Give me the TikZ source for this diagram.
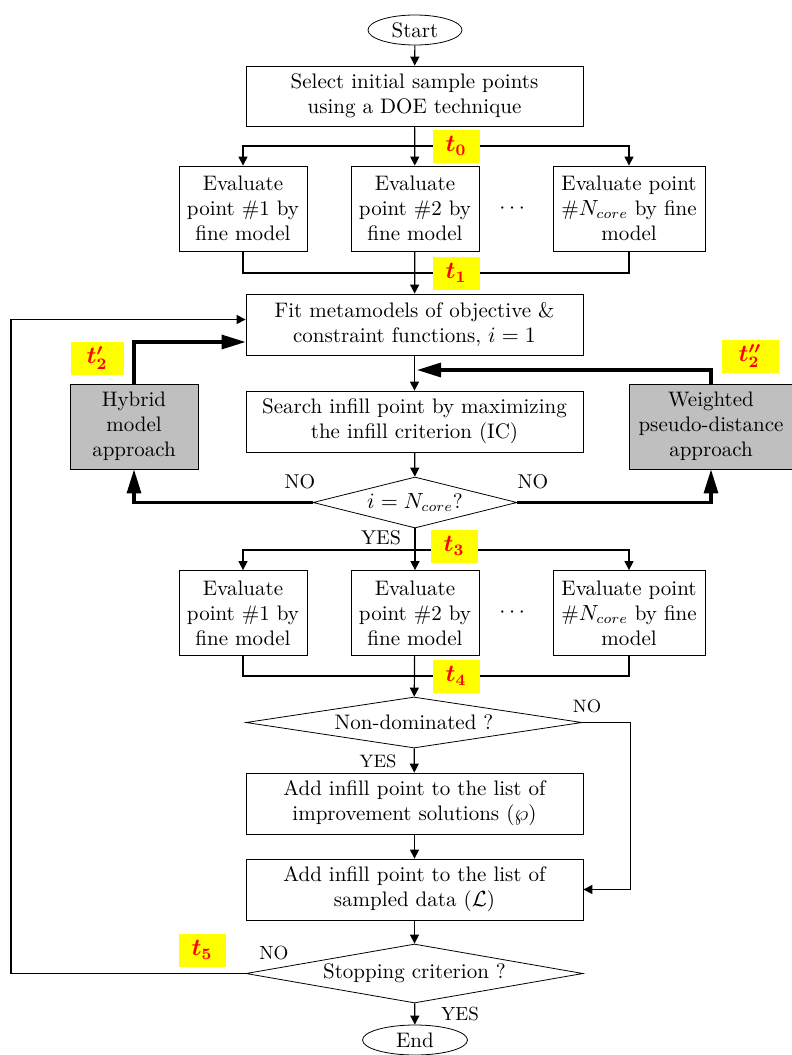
\documentclass[tikz,border=0pt]{standalone}
\usepackage{amsmath,bm}
\usetikzlibrary{arrows.meta,positioning,shapes.geometric}
\definecolor{marker}{RGB}{255,255,0}
\definecolor{stampred}{RGB}{255,0,0}
\definecolor{slate}{RGB}{191,191,191}
\newcommand\chartfont{\fontsize{10.5}{12.5}\selectfont}
\tikzset{
  >={Triangle[length=4.5pt,width=4.5pt]},
  proc/.style={draw,fill=white,align=center,font=\chartfont,inner sep=1pt,
    minimum width=168.5pt,minimum height=30.5pt},
  evalbox/.style={draw,fill=#1,align=center,font=\chartfont,inner sep=1pt,
    minimum width=64pt,minimum height=42.5pt},
  evalbox/.default=white,
  term/.style={draw,ellipse,fill=white,font=\chartfont,inner sep=0pt,
    minimum width=47pt,minimum height=15pt},
  decide/.style={draw,diamond,fill=white,font=\chartfont,inner sep=0pt,
    shape aspect=#1,minimum height=25.5pt},
  stamp/.style={fill=marker,text=stampred,minimum width=23.5pt,minimum height=16.5pt,
    inner sep=0pt,font=\fontsize{12}{12}\selectfont},
  flow/.style={->,line width=0.6pt},
  bold flow/.style={-{Triangle[length=12pt,width=7pt]},line width=1.6pt},
  answer/.style={font=\fontsize{#1}{#1}\selectfont,inner sep=1pt},
  answer/.default=10,
}

\begin{document}
\begin{tikzpicture}[x=0.5pt,y=-0.5pt]
  \fill[white] (0,0) rectangle (792,1055);
  \useasboundingbox (0,0) rectangle (792,1055);

  % main column
  \node[term] (start) at (415,30) {Start};
  \node[proc,minimum height=30pt] (sel) at (414.5,96) {Select initial sample points\\using a DOE technique};
  \node[evalbox] (ev11) at (243,208.5) {Evaluate\\point \#1 by\\fine model};
  \node[evalbox] (ev12) at (415,208.5) {Evaluate\\point \#2 by\\fine model};
  \node[evalbox,minimum width=76pt] (ev13) at (629,208.5) {Evaluate point\\\#$N_{core}$ by fine\\model};
  \node[font=\chartfont] (dots1) at (514,209) {$\cdots$};
  \node[proc] (fit) at (414.5,324.5) {Fit metamodels of objective \&\\constraint functions, $i=1$};
  \node[proc] (search) at (414.5,421.5) {Search infill point by maximizing\\the infill criterion (IC)};
  \node[evalbox=slate] (hyb) at (134,426.5) {Hybrid\\model\\approach};
  \node[evalbox=slate,minimum width=82pt] (wpd) at (711,426.5) {Weighted\\pseudo-distance\\approach};
  \node[decide=5,minimum width=102pt] (dec1) at (415,502.5) {$i=N_{core}$?};
  \node[evalbox] (ev21) at (243,613) {Evaluate\\point \#1 by\\fine model};
  \node[evalbox] (ev22) at (415,613) {Evaluate\\point \#2 by\\fine model};
  \node[evalbox,minimum width=76pt] (ev23) at (629,613) {Evaluate point\\\#$N_{core}$ by fine\\model};
  \node[font=\chartfont] (dots2) at (514,613) {$\cdots$};
  \node[decide=8,minimum width=168pt] (dec2) at (414,722.5) {Non-dominated ?};
  \node[proc] (add1) at (414.5,803.5) {Add infill point to the list of\\improvement solutions ($\wp$)};
  \node[proc] (add2) at (414.5,889.5) {Add infill point to the list of\\sampled data ($\mathcal{L}$)};
  \node[decide=7,minimum width=168.5pt,minimum height=29.5pt] (stop) at (414.5,973.5) {Stopping criterion ?};
  \node[term,minimum width=52.5pt] (end) at (415,1040) {End};

  % helper points
  \coordinate (b0) at (415,146);
  \coordinate (m1) at (415,273);
  \coordinate (b3) at (415,550);
  \coordinate (m4) at (415,676);
  \coordinate (j2) at (417,370);
  \coordinate (lp) at (11,973.5);

  % connectors
  \draw[flow] (start) -- (sel);
  \draw[flow] (sel) -- (ev12);
  \draw[flow] (b0) -| (ev11);
  \draw[flow] (b0) -| (ev13);
  \draw[line width=0.6pt] (ev11) |- (m1) -| (ev13);
  \draw[flow] (ev12) -- (fit);
  \draw[flow] (fit) -- (search);
  \draw[flow] (search) -- (dec1);
  \draw[bold flow] (dec1.west) -| (hyb);
  \draw[bold flow] (dec1.east) -| (wpd);
  \draw[bold flow] (hyb.north) |- ([yshift=-8.75pt]fit.west);
  \draw[bold flow] (wpd.north) |- (j2);
  \draw[flow] (dec1) -- (ev22);
  \draw[flow] (b3) -| (ev21);
  \draw[flow] (b3) -| (ev23);
  \draw[line width=0.6pt] (ev21) |- (m4) -| (ev23);
  \draw[flow] (ev22) -- (dec2);
  \draw[flow] (dec2) -- (add1);
  \draw[flow] (dec2.east) -- ++(48,0) |- (add2.east);
  \draw[flow] (add1) -- (add2);
  \draw[flow] (add2) -- (stop);
  \draw[flow] (stop.west) -- (lp) |- ([yshift=2.5pt]fit.west);
  \draw[flow] (stop) -- (end);

  % branch answers
  \node[answer] (no1) at (300,482) {NO};
  \node[answer] (no2) at (533,482) {NO};
  \node[answer] (yes1) at (381,538) {YES};
  \node[answer=9] (no3) at (587,706) {NO};
  \node[answer=9] (yes2) at (378,761) {YES};
  \node[answer=9.5] (no4) at (274,953) {NO};
  \node[answer=9.5] (yes3) at (460,1014) {YES};

  % timing stamps
  \node[stamp] (t0) at (456,146) {$\bm{t_0}$};
  \node[stamp] (t1) at (456,273) {$\bm{t_1}$};
  \node[stamp,minimum width=26.5pt] (t2a) at (97,358) {$\bm{t'_2}$};
  \node[stamp,minimum width=28.5pt] (t2b) at (750,356) {$\bm{t''_2}$};
  \node[stamp] (t3) at (454,546) {$\bm{t_3}$};
  \node[stamp] (t4) at (456,676) {$\bm{t_4}$};
  \node[stamp] (t5) at (202,950) {$\bm{t_5}$};
\end{tikzpicture}
\end{document}
